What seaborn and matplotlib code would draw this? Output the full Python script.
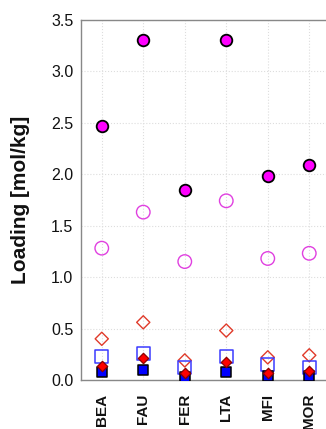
import matplotlib
matplotlib.use("Agg")
import matplotlib.pyplot as plt
import seaborn as sns
import pandas as pd

frameworks = ["BEA", "FAU", "FER", "LTA", "MFI", "MOR"]

filled_circle = [2.47, 3.30, 1.84, 3.30, 1.98, 2.09]
open_circle = [1.28, 1.63, 1.15, 1.74, 1.18, 1.23]
open_diamond = [0.40, 0.56, 0.19, 0.48, 0.22, 0.24]
open_square = [0.23, 0.26, 0.12, 0.23, 0.15, 0.12]
filled_diamond = [0.14, 0.21, 0.07, 0.17, 0.07, 0.09]
filled_square = [0.08, 0.10, 0.03, 0.08, 0.04, 0.04]

sns.set_theme(style="white")
plt.rcParams["font.family"] = ["Liberation Sans", "DejaVu Sans"]
plt.rcParams["text.color"] = "#111111"
plt.rcParams["axes.labelcolor"] = "#111111"
plt.rcParams["xtick.color"] = "#111111"
plt.rcParams["ytick.color"] = "#111111"

fig = plt.figure(figsize=(3.26, 4.29), dpi=100)
ax = fig.add_axes([0.2485, 0.1142, 1.0123 - 0.2485, 0.9545 - 0.1142])

series = [
    (open_circle, dict(marker="o", s=95, facecolor="none", edgecolor="#e040e0", linewidth=1.0)),
    (filled_circle, dict(marker="o", s=70, facecolor="#ff00ff", edgecolor="black", linewidth=1.3)),
    (open_diamond, dict(marker="D", s=45, facecolor="none", edgecolor="#e03a2a", linewidth=1.0)),
    (open_square, dict(marker="s", s=85, facecolor="none", edgecolor="#3a3aff", linewidth=1.1)),
    (filled_square, dict(marker="s", s=55, facecolor="#0000ff", edgecolor="black", linewidth=1.1)),
    (filled_diamond, dict(marker="D", s=28, facecolor="#ff0000", edgecolor="#8b0000", linewidth=0.9)),
]

for values, style in series:
    df = pd.DataFrame({"framework": frameworks, "loading": values})
    sns.scatterplot(data=df, x="framework", y="loading", ax=ax, zorder=3, **style)

ax.set_xlim(-0.5, 5.5)
ax.set_ylim(0, 3.5)
ax.set_yticks([0.0, 0.5, 1.0, 1.5, 2.0, 2.5, 3.0, 3.5])
ax.set_yticklabels([f"{v:.1f}" for v in ax.get_yticks()], fontsize=11.5)
ax.set_xticks(range(len(frameworks)))
ax.set_xticklabels(frameworks, rotation=90, fontsize=11, fontweight="bold")
ax.set_xlabel("")
ax.set_ylabel("Loading [mol/kg]", fontsize=15, fontweight="bold", labelpad=15)

ax.grid(True, color="#dddddd", linestyle=":", linewidth=0.8)
ax.set_axisbelow(True)
ax.tick_params(axis="y", direction="out", length=2.5, width=0.8, color="#777777", pad=3)
ax.tick_params(axis="x", direction="in", length=3, width=0.8, color="#777777", pad=10)
for side in ["top", "left", "bottom", "right"]:
    ax.spines[side].set_color("#888888")
    ax.spines[side].set_linewidth(1.0)

fig.savefig("out.png", dpi=100)
